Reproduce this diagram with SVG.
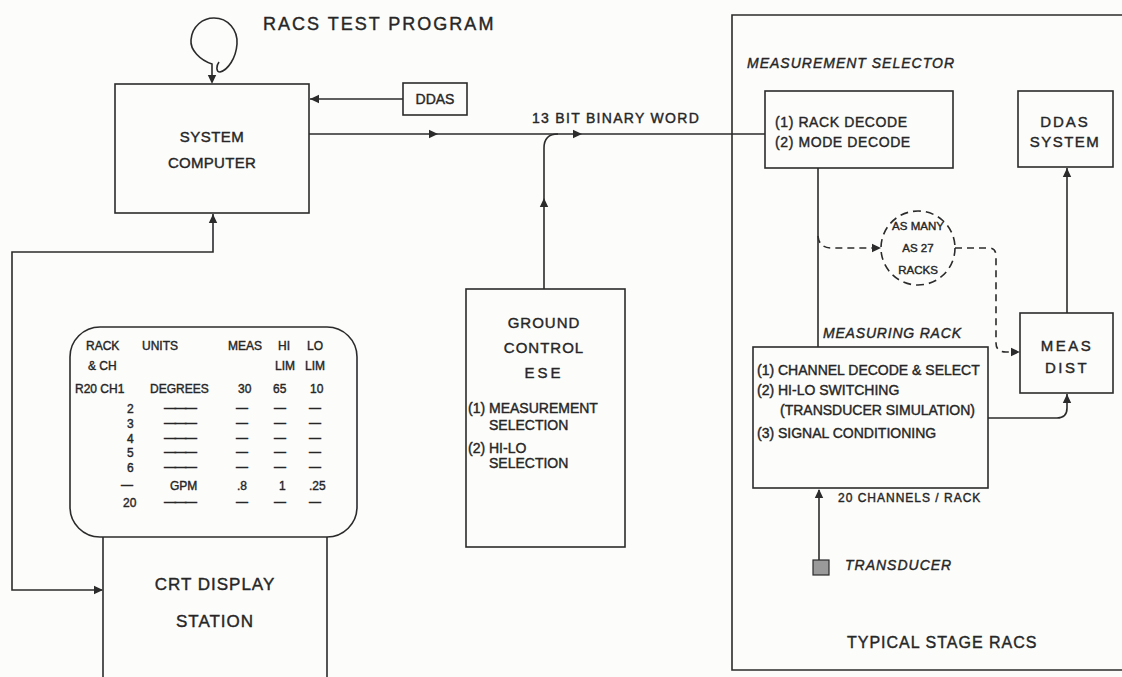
<svg xmlns="http://www.w3.org/2000/svg" xmlns:xlink="http://www.w3.org/1999/xlink" width="1122" height="677" viewBox="0 0 1122 677">
<style>
  .ln{fill:none;stroke:#2b2b2b;stroke-width:1.6}
  .dash{fill:none;stroke:#2b2b2b;stroke-width:1.6;stroke-dasharray:7 5}
  .box{fill:none;stroke:#2b2b2b;stroke-width:1.6}
  text{font-family:"Liberation Sans",Arial,sans-serif;fill:#262626;stroke:#262626;stroke-width:0.4}
  .t14{font-size:14px}
  .t15{font-size:15px}
  .tab{font-size:12px}
  .dsh{letter-spacing:-1.5px}
  .it{font-style:italic}
  .mid{text-anchor:middle}
</style>
<defs>
  <path id="ah" d="M0,0 L-9,-4.2 L-9,4.2 Z" fill="#2b2b2b"/>
</defs>
<rect width="1122" height="677" fill="#fcfcfb"/>

<text x="263" y="30" style="font-size:18px;letter-spacing:2px">RACS TEST PROGRAM</text>

<g id="system-computer">
  <rect class="box" x="115" y="84" width="194" height="129"/>
  <text class="t15 mid" x="212" y="142" style="letter-spacing:0.5px">SYSTEM</text>
  <text class="t15 mid" x="212" y="168" style="letter-spacing:0.3px">COMPUTER</text>
</g>

<g id="ddas">
  <rect class="box" x="403" y="83" width="64" height="32"/>
  <text class="t14 mid" x="435" y="104">DDAS</text>
</g>

<g id="ground-control">
  <rect class="box" x="466" y="289" width="159" height="258"/>
  <text class="t15 mid" x="544" y="328" style="letter-spacing:1px">GROUND</text>
  <text class="t15 mid" x="544" y="353" style="letter-spacing:1px">CONTROL</text>
  <text class="t15 mid" x="544" y="378" style="letter-spacing:3px">ESE</text>
  <text class="t14" x="468" y="413">(1) MEASUREMENT</text>
  <text class="t14" x="489" y="430">SELECTION</text>
  <text class="t14" x="468" y="453">(2) HI-LO</text>
  <text class="t14" x="489" y="468">SELECTION</text>
</g>

<g id="crt-display">
  <rect class="box" x="70" y="327" width="287" height="210" rx="30" ry="30"/>
  <path class="ln" d="M103,537 V677 M327,537 V677"/>
  <g class="tab">
    <text x="86" y="350">RACK</text>
    <text x="142" y="350">UNITS</text>
    <text x="228" y="350">MEAS</text>
    <text x="278" y="350">HI</text>
    <text x="307" y="350">LO</text>
    <text x="88" y="370">&amp; CH</text>
    <text x="275" y="370">LIM</text>
    <text x="305" y="370">LIM</text>
    <text x="75" y="393">R20 CH1</text>
    <text x="150" y="393">DEGREES</text>
    <text x="238" y="393">30</text>
    <text x="273" y="393">65</text>
    <text x="310" y="393">10</text>
    <text x="127" y="413">2</text>
    <text x="127" y="428">3</text>
    <text x="127" y="443">4</text>
    <text x="127" y="457">5</text>
    <text x="127" y="472">6</text>
    <text x="121" y="489">—</text>
    <text x="123" y="507">20</text>
    <text class="dsh" x="164" y="412">———</text>
    <text class="dsh" x="164" y="427">———</text>
    <text class="dsh" x="164" y="442">———</text>
    <text class="dsh" x="164" y="456">———</text>
    <text class="dsh" x="164" y="471">———</text>
    <text class="dsh" x="164" y="506">———</text>
    <text x="170" y="490">GPM</text>
    <text x="237" y="490">.8</text>
    <text x="279" y="490">1</text>
    <text x="309" y="490">.25</text>
    <text x="236" y="412">—</text>
    <text x="236" y="427">—</text>
    <text x="236" y="442">—</text>
    <text x="236" y="456">—</text>
    <text x="236" y="471">—</text>
    <text x="236" y="506">—</text>
    <text x="274" y="412">—</text>
    <text x="274" y="427">—</text>
    <text x="274" y="442">—</text>
    <text x="274" y="456">—</text>
    <text x="274" y="471">—</text>
    <text x="274" y="506">—</text>
    <text x="309" y="412">—</text>
    <text x="309" y="427">—</text>
    <text x="309" y="442">—</text>
    <text x="309" y="456">—</text>
    <text x="309" y="471">—</text>
    <text x="309" y="506">—</text>
  </g>
  <text class="mid" x="215" y="590" style="font-size:17px;letter-spacing:1px">CRT DISPLAY</text>
  <text class="mid" x="215" y="627" style="font-size:17px;letter-spacing:1px">STATION</text>
</g>

<g id="typical-stage-racs">
  <path class="ln" d="M1122,15 H732 V670 H1122"/>
  <text class="t14 it" x="747" y="68" style="letter-spacing:1px">MEASUREMENT  SELECTOR</text>
  <text x="847" y="648" style="font-size:16px;letter-spacing:1px">TYPICAL  STAGE  RACS</text>
</g>

<g id="rack-decode">
  <rect class="box" x="765" y="91" width="188" height="77"/>
  <text class="t14" x="775" y="127" style="letter-spacing:0.6px">(1) RACK DECODE</text>
  <text class="t14" x="775" y="147" style="letter-spacing:0.6px">(2) MODE DECODE</text>
</g>

<g id="ddas-system">
  <rect class="box" x="1018" y="91" width="95" height="76"/>
  <text class="t15 mid" x="1065" y="127" style="letter-spacing:2px">DDAS</text>
  <text class="t15 mid" x="1065" y="147" style="letter-spacing:1.5px">SYSTEM</text>
</g>

<g id="racks-circle">
  <circle cx="918" cy="248" r="37" fill="none" stroke="#2b2b2b" stroke-width="1.6" stroke-dasharray="8 5"/>
  <text class="mid" x="918" y="230" style="font-size:11.5px">AS MANY</text>
  <text class="mid" x="918" y="252" style="font-size:11.5px">AS 27</text>
  <text class="mid" x="918" y="274" style="font-size:11.5px">RACKS</text>
</g>

<g id="meas-dist">
  <rect class="box" x="1020" y="313" width="93" height="80"/>
  <text class="t15 mid" x="1067" y="351" style="letter-spacing:2.5px">MEAS</text>
  <text class="t15 mid" x="1067" y="373" style="letter-spacing:2.5px">DIST</text>
</g>

<g id="measuring-rack">
  <text class="t14 it" x="823" y="338" style="letter-spacing:0.8px">MEASURING RACK</text>
  <rect class="box" x="753" y="347" width="235" height="141"/>
  <text class="t14" x="757" y="375">(1) CHANNEL DECODE &amp; SELECT</text>
  <text class="t14" x="757" y="395">(2) HI-LO  SWITCHING</text>
  <text class="t14" x="780" y="415">(TRANSDUCER  SIMULATION)</text>
  <text class="t14" x="757" y="438">(3) SIGNAL  CONDITIONING</text>
  <text x="838" y="502" style="font-size:12px;letter-spacing:1px">20 CHANNELS / RACK</text>
</g>

<g id="transducer">
  <rect x="813" y="560" width="16" height="15" fill="#9a9a9a" stroke="#2b2b2b" stroke-width="1.2"/>
  <text class="t14 it" x="845" y="570" style="letter-spacing:1px">TRANSDUCER</text>
</g>

<g id="connectors">
  <!-- loop -->
  <path class="ln" d="M212,82 V64 C200,60 190,50 191,40 C192,26 203,18 214,18 C228,18 238,30 237,44 C236,58 228,70 220,72 C216,72 216,66 219,62"/>
  <use xlink:href="#ah" transform="translate(212,84) rotate(90)"/>
  <!-- DDAS to computer -->
  <path class="ln" d="M403,99 H310"/>
  <use xlink:href="#ah" transform="translate(310,99) rotate(180)"/>
  <!-- 13 bit binary word -->
  <path class="ln" d="M309,134 H765"/>
  <use xlink:href="#ah" transform="translate(438,134)"/>
  <use xlink:href="#ah" transform="translate(582,134)"/>
  <text x="532" y="123" style="font-size:14px;letter-spacing:1.3px">13 BIT BINARY WORD</text>
  <!-- ground control up -->
  <path class="ln" d="M544,289 V148 Q544,134 558,134"/>
  <use xlink:href="#ah" transform="translate(544,198) rotate(-90)"/>
  <!-- feedback computer / CRT -->
  <path class="ln" d="M213,214 V252 H12 V590 H102"/>
  <use xlink:href="#ah" transform="translate(213,214) rotate(-90)"/>
  <use xlink:href="#ah" transform="translate(103,590)"/>
  <!-- rack decode to measuring rack -->
  <path class="ln" d="M818,168 V347"/>
  <!-- dashed to circle -->
  <path class="dash" d="M818,236 Q819,248 832,248 H878"/>
  <use xlink:href="#ah" transform="translate(881,248)"/>
  <!-- dashed circle to meas dist -->
  <path class="dash" d="M955,248 H989 Q996,248 996,256 V343 Q996,352 1006,352 H1016"/>
  <use xlink:href="#ah" transform="translate(1020,352)"/>
  <!-- meas dist to ddas system -->
  <path class="ln" d="M1067,313 V168"/>
  <use xlink:href="#ah" transform="translate(1067,168) rotate(-90)"/>
  <!-- measuring rack to meas dist -->
  <path class="ln" d="M988,418 H1057 Q1067,418 1067,408 V394"/>
  <use xlink:href="#ah" transform="translate(1067,394) rotate(-90)"/>
  <!-- transducer up -->
  <path class="ln" d="M819,560 V490"/>
  <use xlink:href="#ah" transform="translate(819,489) rotate(-90)"/>
</g>
</svg>
